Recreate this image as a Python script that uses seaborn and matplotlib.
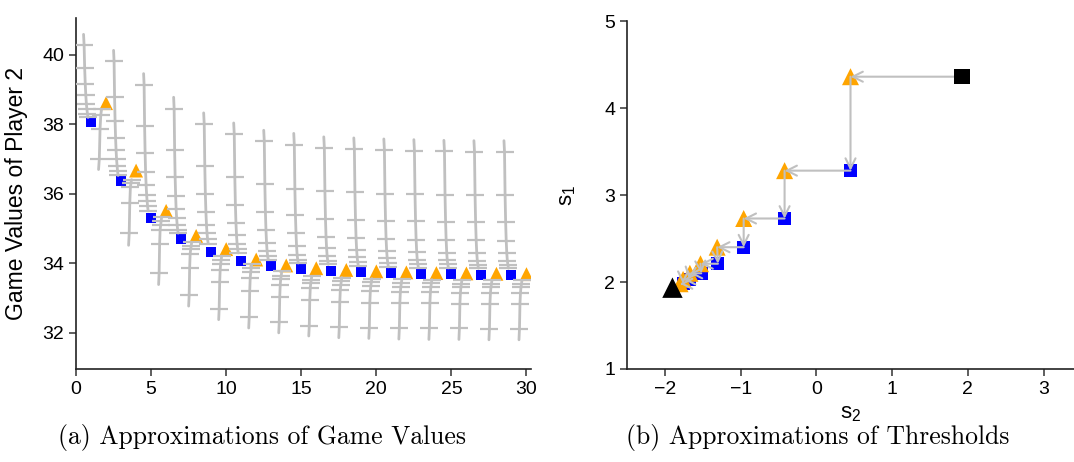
import numpy as np
import pandas as pd
import seaborn as sns
import matplotlib.pyplot as plt

sns.set_theme(style='ticks')
plt.rcParams['font.family'] = ['Liberation Sans', 'DejaVu Sans']
plt.rcParams['mathtext.default'] = 'regular'

# (a) approximations of game values, one marker per outer iteration
iters = list(range(1, 31))
game_values = [38.05, 38.60, 36.35, 36.66, 35.30, 35.50, 34.70, 34.78, 34.33, 34.40,
               34.05, 34.10, 33.90, 33.93, 33.82, 33.85, 33.77, 33.80, 33.73, 33.76,
               33.70, 33.73, 33.69, 33.71, 33.67, 33.70, 33.66, 33.69, 33.66, 33.68]

# inner iterates above each square (odd iterations), first value = top of line
upper_runs = [
    [40.58, 40.27, 39.60, 39.16, 38.83, 38.59, 38.42, 38.29, 38.19],
    [40.12, 39.80, 38.78, 38.10, 37.60, 37.24, 36.98, 36.80, 36.64, 36.52],
    [39.45, 39.13, 37.94, 37.17, 36.61, 36.25, 35.97, 35.78, 35.63, 35.50],
    [38.77, 38.44, 37.25, 36.47, 35.94, 35.54, 35.30, 35.10, 34.96, 34.86],
    [38.32, 37.99, 36.79, 35.99, 35.46, 35.09, 34.85, 34.68, 34.56],
    [38.03, 37.70, 36.47, 35.68, 35.16, 34.80, 34.56, 34.41, 34.29],
    [37.82, 37.50, 36.26, 35.47, 34.94, 34.58, 34.34, 34.20, 34.10],
    [37.73, 37.39, 36.14, 35.37, 34.85, 34.48, 34.24, 34.10, 34.00],
    [37.63, 37.32, 36.07, 35.28, 34.75, 34.42, 34.20, 34.06, 33.96],
    [37.60, 37.28, 36.03, 35.25, 34.72, 34.38, 34.16, 34.02, 33.92],
    [37.57, 37.25, 36.00, 35.22, 34.69, 34.35, 34.13, 33.99, 33.89],
    [37.55, 37.23, 35.98, 35.20, 34.67, 34.32, 34.10, 33.97, 33.87],
    [37.53, 37.21, 35.96, 35.18, 34.66, 34.30, 34.08, 33.96, 33.86],
    [37.52, 37.20, 35.95, 35.17, 34.65, 34.29, 34.07, 33.95, 33.85],
    [37.52, 37.19, 35.95, 35.17, 34.64, 34.29, 34.07, 33.95, 33.85],
]

# inner iterates below each triangle (even iterations), last value = bottom of line
lower_runs = [
    [38.42, 38.27, 37.87, 37.00, 36.69],
    [36.40, 36.30, 36.18, 35.73, 34.85, 34.51],
    [35.32, 35.20, 35.08, 34.96, 34.55, 33.72, 33.38],
    [34.60, 34.48, 34.39, 34.26, 33.86, 33.07, 32.76],
    [34.20, 34.10, 33.98, 33.81, 33.45, 32.69, 32.37],
    [33.96, 33.86, 33.74, 33.57, 33.19, 32.44, 32.13],
    [33.76, 33.64, 33.55, 33.38, 33.03, 32.30, 31.99],
    [33.62, 33.52, 33.42, 33.28, 32.93, 32.20, 31.90],
    [33.58, 33.48, 33.37, 33.22, 32.88, 32.16, 31.85],
    [33.55, 33.45, 33.34, 33.19, 32.86, 32.14, 31.83],
    [33.53, 33.43, 33.32, 33.17, 32.85, 32.13, 31.81],
    [33.52, 33.42, 33.31, 33.16, 32.84, 32.12, 31.80],
    [33.51, 33.41, 33.30, 33.15, 32.83, 32.12, 31.80],
    [33.50, 33.40, 33.30, 33.15, 32.83, 32.11, 31.79],
    [33.50, 33.40, 33.30, 33.15, 32.83, 32.11, 31.79],
]

# (b) approximations of thresholds
start_s2, start_s1 = 1.92, 4.36
tri_s2 = [0.45, -0.42, -0.96, -1.31, -1.53, -1.67, -1.76, -1.80]
tri_s1 = [4.36, 3.28, 2.73, 2.40, 2.21, 2.10, 2.03, 1.98]
sq_s2 = [0.45, -0.42, -0.96, -1.30, -1.52, -1.68, -1.76]
sq_s1 = [3.28, 2.73, 2.40, 2.21, 2.10, 2.03, 1.98]
limit_s2, limit_s1 = -1.90, 1.935

GRAY = '#c0c0c0'
BLUE = '#0000ff'
ORANGE = '#ffa500'

# build long table for the gray inner runs
rows = []
for i, run in enumerate(upper_runs):
    k = 2 * i + 1
    xs = np.linspace(k - 0.5, k - 0.2, len(run))
    for j, (x, y) in enumerate(zip(xs, run)):
        rows.append({'run': f'u{k}', 'x': x, 'y': y, 'tick': j > 0})
for i, run in enumerate(lower_runs):
    k = 2 * i + 2
    xs = np.linspace(k - 0.3, k - 0.5, len(run))
    for j, (x, y) in enumerate(zip(xs, run)):
        rows.append({'run': f'l{k}', 'x': x, 'y': y, 'tick': j < len(run) - 1})
runs_df = pd.DataFrame(rows)

main_df = pd.DataFrame({'iter': iters, 'value': game_values})
odd_df = main_df[main_df['iter'] % 2 == 1]
even_df = main_df[main_df['iter'] % 2 == 0]

fig = plt.figure(figsize=(10.74, 4.62), dpi=100)
ax1 = fig.add_axes([0.0708, 0.2013, 0.4236, 0.7597])
ax2 = fig.add_axes([0.5838, 0.2013, 0.4162, 0.7532])

# left panel
sns.scatterplot(data=odd_df, x='iter', y='value', marker='s', s=52, color=BLUE,
                edgecolor='none', ax=ax1, zorder=2)
sns.scatterplot(data=even_df, x='iter', y='value', marker='^', s=100, color=ORANGE,
                edgecolor='none', ax=ax1, zorder=2)
sns.lineplot(data=runs_df, x='x', y='y', units='run', estimator=None, sort=False,
             color=GRAY, lw=2, ax=ax1, zorder=3)
sns.scatterplot(data=runs_df[runs_df['tick']], x='x', y='y', marker='_', s=170,
                color=GRAY, linewidth=1.6, ax=ax1, zorder=3)

ax1.set_xlim(0, 30.3)
ax1.set_ylim(30.95, 41.05)
ax1.set_xticks([0, 5, 10, 15, 20, 25, 30])
ax1.set_yticks([32, 34, 36, 38, 40])
ax1.set_xlabel('')
ax1.set_ylabel('Game Values of Player 2', fontsize=16.5, color='black')
ax1.yaxis.set_label_coords(-0.105, 0.5)

# right panel: arrows along the alternating path
path = [(start_s2, start_s1)]
for i in range(len(sq_s2)):
    path.append((tri_s2[i], tri_s1[i]))
    path.append((sq_s2[i], sq_s1[i]))
path.append((tri_s2[-1], tri_s1[-1]))
for (x0, y0), (x1, y1) in zip(path[:-1], path[1:]):
    ax2.annotate('', xy=(x1, y1), xytext=(x0, y0),
                 arrowprops=dict(arrowstyle='->', color=GRAY, lw=1.5,
                                 shrinkA=0, shrinkB=0, mutation_scale=18),
                 zorder=3)

sns.scatterplot(x=sq_s2, y=sq_s1, marker='s', s=87, color=BLUE, edgecolor='none',
                ax=ax2, zorder=2)
sns.scatterplot(x=tri_s2, y=tri_s1, marker='^', s=150, color=ORANGE, edgecolor='none',
                ax=ax2, zorder=2)
sns.scatterplot(x=[start_s2], y=[start_s1], marker='s', s=121, color='black',
                edgecolor='none', ax=ax2, zorder=4)
sns.scatterplot(x=[limit_s2], y=[limit_s1], marker='^', s=216, color='black',
                edgecolor='none', ax=ax2, zorder=4)

ax2.set_xlim(-2.5, 3.4)
ax2.set_ylim(1, 5)
ax2.set_xticks([-2, -1, 0, 1, 2, 3])
ax2.set_yticks([1, 2, 3, 4, 5])
ax2.set_xlabel('s$_2$', fontsize=16, color='black')
ax2.set_ylabel('s$_1$', fontsize=16, color='black')
ax2.yaxis.set_label_coords(-0.11, 0.5)

for ax in (ax1, ax2):
    sns.despine(ax=ax)
    ax.tick_params(labelsize=14, length=5, width=1.1, color='#333333',
                   labelcolor='black')
    for sp in ('left', 'bottom'):
        ax.spines[sp].set_linewidth(1.2)
        ax.spines[sp].set_color('#222222')

fig.text(0.2444, 0.054, '(a) Approximations of Game Values', ha='center', va='center',
         family='cmr10', fontsize=18.5, color='black')
fig.text(0.761, 0.054, '(b) Approximations of Thresholds', ha='center', va='center',
         family='cmr10', fontsize=18.5, color='black')

fig.savefig('out.png', dpi=100)
